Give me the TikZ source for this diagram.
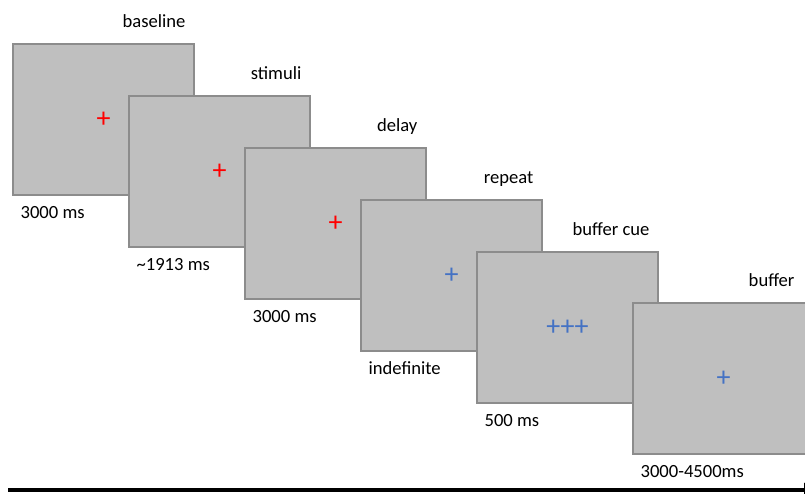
\documentclass[tikz,border=0pt]{standalone}
\usepackage{fontspec}
\setmainfont{Carlito}
\usetikzlibrary{arrows.meta, calc, positioning}
\definecolor{screengray}{RGB}{191,191,191}
\definecolor{screenedge}{RGB}{140,140,140}
\definecolor{crossblue}{RGB}{68,114,196}
\tikzstyle{screen} = [rectangle, draw=screenedge, fill=screengray, line width=1.2pt, minimum width=181pt, minimum height=151pt, inner sep=0pt, font=\fontsize{28}{28}\selectfont]
\tikzstyle{redcross} = [screen, text=red]
\tikzstyle{bluecross} = [screen, text=crossblue]
\tikzstyle{phase} = [inner sep=0pt, anchor=base east, font=\fontsize{18.6}{18.6}\selectfont]
\tikzstyle{duration} = [inner sep=0pt, anchor=base west, font=\fontsize{18.6}{18.6}\selectfont]
\tikzstyle{timeline} = [line width=4pt, -{Triangle[length=12pt, width=14pt]}]
\begin{document}
\begin{tikzpicture}[x=1pt, y=-1pt]
		\useasboundingbox (0,0) rectangle (805,493);
		\node (Baseline) [redcross] at (103.5,119.5) {+};
		\node (Stimuli) [redcross] at ($(Baseline)+(116,52)$) {+};
		\node (Delay) [redcross] at ($(Stimuli)+(116,52)$) {+};
		\node (Repeat) [bluecross] at ($(Delay)+(116,52)$) {+};
		\node (Cue) [bluecross] at ($(Repeat)+(116,52)$) {+++};
		\node (Buffer) [bluecross] at ($(Cue)+(156,51)$) {+};
		
		\node (BaselineName) [phase] at ($(Baseline.north east)+(-9,-16)$) {baseline};
		\node (StimuliName) [phase] at ($(Stimuli.north east)+(-9,-16)$) {stimuli};
		\node (DelayName) [phase] at ($(Delay.north east)+(-9,-16)$) {delay};
		\node (RepeatName) [phase] at ($(Repeat.north east)+(-9,-16)$) {repeat};
		\node (CueName) [phase] at ($(Cue.north east)+(-9,-16)$) {buffer cue};
		\node (BufferName) [phase] at ($(Buffer.north east)+(-20,-16)$) {buffer};
		
		\node (BaselineTime) [duration] at ($(Baseline.south west)+(8,23)$) {3000 ms};
		\node (StimuliTime) [duration] at ($(Stimuli.south west)+(8,23)$) {\textasciitilde1913 ms};
		\node (DelayTime) [duration] at ($(Delay.south west)+(8,23)$) {3000 ms};
		\node (RepeatTime) [duration] at ($(Repeat.south west)+(8,23)$) {indefinite};
		\node (CueTime) [duration] at ($(Cue.south west)+(8,23)$) {500 ms};
		\node (BufferTime) [duration] at ($(Buffer.south west)+(8,23)$) {3000-4500ms};
		
		%time axis
		\coordinate (TimeStart) at (8,490);
		\coordinate (TimeEnd) at (816,490);
		\draw [timeline] (TimeStart) -- (TimeEnd);
\end{tikzpicture}
\end{document}
